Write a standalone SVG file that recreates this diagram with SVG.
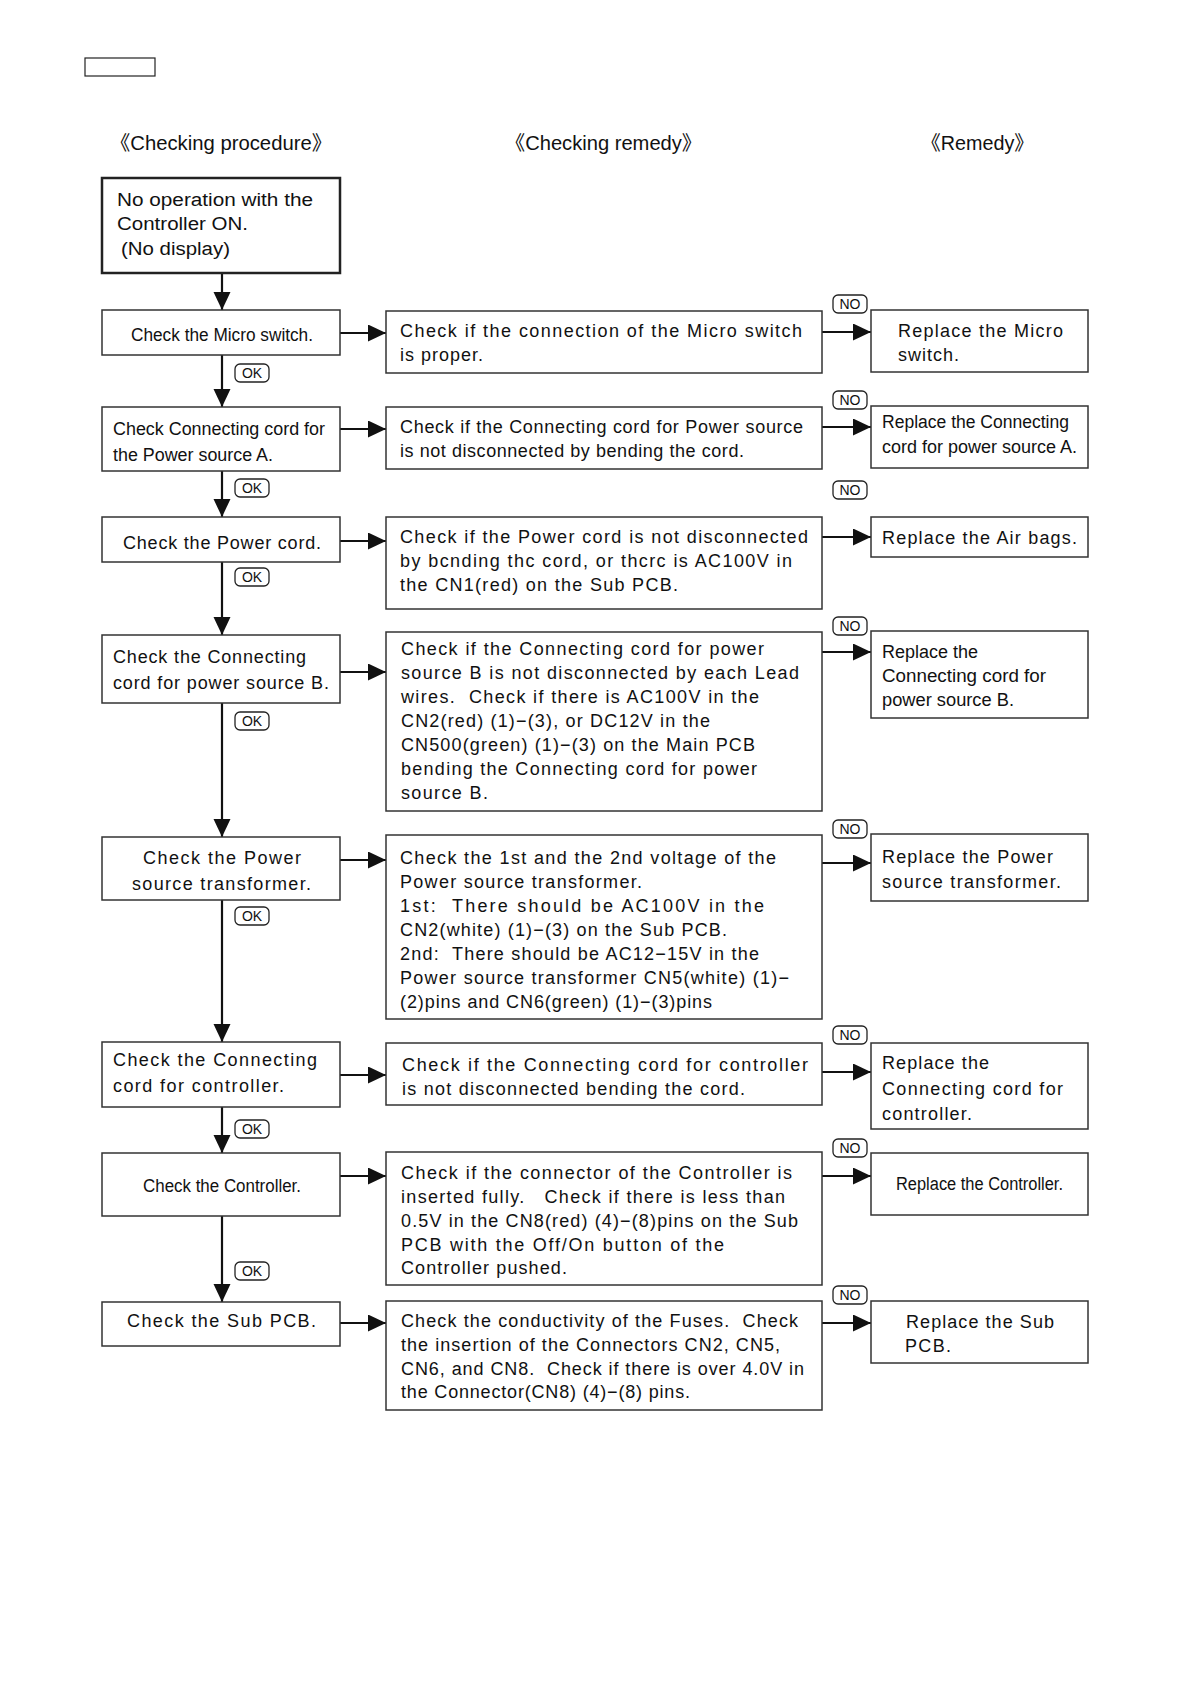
<svg xmlns="http://www.w3.org/2000/svg" width="1190" height="1684" viewBox="0 0 1190 1684">
<style>
.bg{fill:#fff}
.box{fill:#fff;stroke:#333;stroke-width:1.5}
.box0{fill:#fff;stroke:#222;stroke-width:2.5}
.t{font-family:"Liberation Sans","Noto Sans CJK JP",sans-serif;font-size:18px;fill:#111;white-space:pre}
.c{font-family:"Liberation Sans","Noto Sans CJK JP",sans-serif;font-size:18px;fill:#111;white-space:pre}
.h{font-family:"Liberation Sans","Noto Sans CJK JP",sans-serif;font-size:20px;fill:#111}
.lbl{fill:#fff;stroke:#222;stroke-width:1.3}
.lt{font-family:"Liberation Sans",sans-serif;font-size:14px;fill:#111;text-anchor:middle}
.conn line{stroke:#111;stroke-width:2.2}
</style>
<defs>
<marker id="ah" markerUnits="userSpaceOnUse" markerWidth="19" markerHeight="18" refX="18" refY="8.5" orient="auto">
<path d="M0,0 L18,8.5 L0,17 z" fill="#111"/>
</marker>
</defs>
<rect class="bg" x="0" y="0" width="1190" height="1684"/>
<rect x="85" y="58" width="70" height="18" fill="#fff" stroke="#222" stroke-width="1.2"/>

<g id="headers">
<text class="h" x="110" y="150" textLength="222" lengthAdjust="spacingAndGlyphs">《Checking procedure》</text>
<text class="h" x="505" y="150" textLength="197" lengthAdjust="spacingAndGlyphs">《Checking remedy》</text>
<text class="h" x="921" y="150" textLength="113" lengthAdjust="spacingAndGlyphs">《Remedy》</text>
</g>

<g class="conn" id="connectors">
<line x1="222" y1="273" x2="222" y2="310" marker-end="url(#ah)"/>
<line x1="222" y1="355" x2="222" y2="407" marker-end="url(#ah)"/>
<line x1="222" y1="471" x2="222" y2="517" marker-end="url(#ah)"/>
<line x1="222" y1="562" x2="222" y2="635" marker-end="url(#ah)"/>
<line x1="222" y1="703" x2="222" y2="837" marker-end="url(#ah)"/>
<line x1="222" y1="900" x2="222" y2="1042" marker-end="url(#ah)"/>
<line x1="222" y1="1107" x2="222" y2="1153" marker-end="url(#ah)"/>
<line x1="222" y1="1216" x2="222" y2="1302" marker-end="url(#ah)"/>
<line x1="340" y1="333" x2="386" y2="333" marker-end="url(#ah)"/>
<line x1="340" y1="429" x2="386" y2="429" marker-end="url(#ah)"/>
<line x1="340" y1="541" x2="386" y2="541" marker-end="url(#ah)"/>
<line x1="340" y1="672" x2="386" y2="672" marker-end="url(#ah)"/>
<line x1="340" y1="860" x2="386" y2="860" marker-end="url(#ah)"/>
<line x1="340" y1="1075" x2="386" y2="1075" marker-end="url(#ah)"/>
<line x1="340" y1="1176" x2="386" y2="1176" marker-end="url(#ah)"/>
<line x1="340" y1="1323" x2="386" y2="1323" marker-end="url(#ah)"/>
<line x1="822" y1="332" x2="871" y2="332" marker-end="url(#ah)"/>
<line x1="822" y1="427" x2="871" y2="427" marker-end="url(#ah)"/>
<line x1="822" y1="537" x2="871" y2="537" marker-end="url(#ah)"/>
<line x1="822" y1="652" x2="871" y2="652" marker-end="url(#ah)"/>
<line x1="822" y1="863" x2="871" y2="863" marker-end="url(#ah)"/>
<line x1="822" y1="1072" x2="871" y2="1072" marker-end="url(#ah)"/>
<line x1="822" y1="1176" x2="871" y2="1176" marker-end="url(#ah)"/>
<line x1="822" y1="1323" x2="871" y2="1323" marker-end="url(#ah)"/>
</g>

<g id="labels">
<rect class="lbl" x="235" y="364" width="34" height="18" rx="5"/><text class="lt" x="252" y="378">OK</text>
<rect class="lbl" x="235" y="479" width="34" height="18" rx="5"/><text class="lt" x="252" y="493">OK</text>
<rect class="lbl" x="235" y="568" width="34" height="18" rx="5"/><text class="lt" x="252" y="582">OK</text>
<rect class="lbl" x="235" y="712" width="34" height="18" rx="5"/><text class="lt" x="252" y="726">OK</text>
<rect class="lbl" x="235" y="907" width="34" height="18" rx="5"/><text class="lt" x="252" y="921">OK</text>
<rect class="lbl" x="235" y="1120" width="34" height="18" rx="5"/><text class="lt" x="252" y="1134">OK</text>
<rect class="lbl" x="235" y="1262" width="34" height="18" rx="5"/><text class="lt" x="252" y="1276">OK</text>
<rect class="lbl" x="833" y="295" width="34" height="18" rx="5"/><text class="lt" x="850" y="309">NO</text>
<rect class="lbl" x="833" y="391" width="34" height="18" rx="5"/><text class="lt" x="850" y="405">NO</text>
<rect class="lbl" x="833" y="481" width="34" height="18" rx="5"/><text class="lt" x="850" y="495">NO</text>
<rect class="lbl" x="833" y="617" width="34" height="18" rx="5"/><text class="lt" x="850" y="631">NO</text>
<rect class="lbl" x="833" y="820" width="34" height="18" rx="5"/><text class="lt" x="850" y="834">NO</text>
<rect class="lbl" x="833" y="1026" width="34" height="18" rx="5"/><text class="lt" x="850" y="1040">NO</text>
<rect class="lbl" x="833" y="1139" width="34" height="18" rx="5"/><text class="lt" x="850" y="1153">NO</text>
<rect class="lbl" x="833" y="1286" width="34" height="18" rx="5"/><text class="lt" x="850" y="1300">NO</text>
</g>

<g id="start">
<rect class="box0" x="102" y="178" width="238" height="95"/>
<text class="c" x="117" y="206" textLength="196" lengthAdjust="spacingAndGlyphs">No operation with the</text>
<text class="c" x="117" y="230" textLength="131" lengthAdjust="spacingAndGlyphs">Controller ON.</text>
<text class="c" x="121" y="255" textLength="109" lengthAdjust="spacingAndGlyphs">(No display)</text>
</g>

<g id="p1">
<rect class="box" x="102" y="310" width="238" height="45"/>
<text class="c" x="131" y="341" textLength="182" lengthAdjust="spacingAndGlyphs">Check the Micro switch.</text>
</g>
<g id="p2">
<rect class="box" x="102" y="407" width="238" height="64"/>
<text class="c" x="113" y="435" textLength="212" lengthAdjust="spacingAndGlyphs">Check Connecting cord for</text>
<text class="c" x="113" y="461" textLength="160" lengthAdjust="spacingAndGlyphs">the Power source A.</text>
</g>
<g id="p3">
<rect class="box" x="102" y="517" width="238" height="45"/>
<text class="t" x="123" y="549" textLength="198" lengthAdjust="spacing">Check the Power cord.</text>
</g>
<g id="p4">
<rect class="box" x="102" y="635" width="238" height="68"/>
<text class="t" x="113" y="663" textLength="193" lengthAdjust="spacing">Check the Connecting</text>
<text class="t" x="113" y="689" textLength="216" lengthAdjust="spacing">cord for power source B.</text>
</g>
<g id="p5">
<rect class="box" x="102" y="837" width="238" height="63"/>
<text class="t" x="143" y="864" textLength="158" lengthAdjust="spacing">Check the Power</text>
<text class="t" x="132" y="890" textLength="179" lengthAdjust="spacing">source transformer.</text>
</g>
<g id="p6">
<rect class="box" x="102" y="1042" width="238" height="65"/>
<text class="t" x="113" y="1066" textLength="204" lengthAdjust="spacing">Check the Connecting</text>
<text class="t" x="113" y="1092" textLength="171" lengthAdjust="spacing">cord for controller.</text>
</g>
<g id="p7">
<rect class="box" x="102" y="1153" width="238" height="63"/>
<text class="c" x="143" y="1192" textLength="158" lengthAdjust="spacingAndGlyphs">Check the Controller.</text>
</g>
<g id="p8">
<rect class="box" x="102" y="1302" width="238" height="44"/>
<text class="t" x="127" y="1327" textLength="189" lengthAdjust="spacing">Check the Sub PCB.</text>
</g>

<g id="c1">
<rect class="box" x="386" y="311" width="436" height="62"/>
<text class="t" x="400" y="337" textLength="402" lengthAdjust="spacing">Check if the connection of the Micro switch</text>
<text class="t" x="400" y="361" textLength="83" lengthAdjust="spacing">is proper.</text>
</g>
<g id="c2">
<rect class="box" x="386" y="407" width="436" height="62"/>
<text class="t" x="400" y="433" textLength="403" lengthAdjust="spacing">Check if the Connecting cord for Power source</text>
<text class="t" x="400" y="457" textLength="344" lengthAdjust="spacing">is not disconnected by bending the cord.</text>
</g>
<g id="c3">
<rect class="box" x="386" y="517" width="436" height="92"/>
<text class="t" x="400" y="543" textLength="408" lengthAdjust="spacing">Check if the Power cord is not disconnected</text>
<text class="t" x="400" y="567" textLength="392" lengthAdjust="spacing">by bcnding thc cord, or thcrc is AC100V in</text>
<text class="t" x="400" y="591" textLength="278" lengthAdjust="spacing">the CN1(red) on the Sub PCB.</text>
</g>
<g id="c4">
<rect class="box" x="386" y="632" width="436" height="179"/>
<text class="t" x="401" y="655" textLength="363" lengthAdjust="spacing">Check if the Connecting cord for power</text>
<text class="t" x="401" y="679" textLength="398" lengthAdjust="spacing">source B is not disconnected by each Lead</text>
<text class="t" x="401" y="703" textLength="358" lengthAdjust="spacing">wires.  Check if there is AC100V in the</text>
<text class="t" x="401" y="727" textLength="309" lengthAdjust="spacing">CN2(red) (1)−(3), or DC12V in the</text>
<text class="t" x="401" y="751" textLength="354" lengthAdjust="spacing">CN500(green) (1)−(3) on the Main PCB</text>
<text class="t" x="401" y="775" textLength="356" lengthAdjust="spacing">bending the Connecting cord for power</text>
<text class="t" x="401" y="799" textLength="87" lengthAdjust="spacing">source B.</text>
</g>
<g id="c5">
<rect class="box" x="386" y="835" width="436" height="184"/>
<text class="t" x="400" y="864" textLength="376" lengthAdjust="spacing">Check the 1st and the 2nd voltage of the</text>
<text class="t" x="400" y="888" textLength="242" lengthAdjust="spacing">Power source transformer.</text>
<text class="t" x="400" y="912" textLength="364" lengthAdjust="spacing">1st:  There should be AC100V in the</text>
<text class="t" x="400" y="936" textLength="327" lengthAdjust="spacing">CN2(white) (1)−(3) on the Sub PCB.</text>
<text class="t" x="400" y="960" textLength="359" lengthAdjust="spacing">2nd:  There should be AC12−15V in the</text>
<text class="t" x="400" y="984" textLength="389" lengthAdjust="spacing">Power source transformer CN5(white) (1)−</text>
<text class="t" x="400" y="1008" textLength="312" lengthAdjust="spacing">(2)pins and CN6(green) (1)−(3)pins</text>
</g>
<g id="c6">
<rect class="box" x="386" y="1043" width="436" height="62"/>
<text class="t" x="402" y="1071" textLength="406" lengthAdjust="spacing">Check if the Connecting cord for controller</text>
<text class="t" x="402" y="1095" textLength="343" lengthAdjust="spacing">is not disconnected bending the cord.</text>
</g>
<g id="c7">
<rect class="box" x="386" y="1152" width="436" height="133"/>
<text class="t" x="401" y="1179" textLength="391" lengthAdjust="spacing">Check if the connector of the Controller is</text>
<text class="t" x="401" y="1203" textLength="384" lengthAdjust="spacing">inserted fully.   Check if there is less than</text>
<text class="t" x="401" y="1227" textLength="397" lengthAdjust="spacing">0.5V in the CN8(red) (4)−(8)pins on the Sub</text>
<text class="t" x="401" y="1251" textLength="323" lengthAdjust="spacing">PCB with the Off/On button of the</text>
<text class="t" x="401" y="1274" textLength="166" lengthAdjust="spacing">Controller pushed.</text>
</g>
<g id="c8">
<rect class="box" x="386" y="1301" width="436" height="109"/>
<text class="t" x="401" y="1327" textLength="397" lengthAdjust="spacing">Check the conductivity of the Fuses.  Check</text>
<text class="t" x="401" y="1351" textLength="379" lengthAdjust="spacing">the insertion of the Connectors CN2, CN5,</text>
<text class="t" x="401" y="1375" textLength="403" lengthAdjust="spacing">CN6, and CN8.  Check if there is over 4.0V in</text>
<text class="t" x="401" y="1398" textLength="289" lengthAdjust="spacing">the Connector(CN8) (4)−(8) pins.</text>
</g>

<g id="r1">
<rect class="box" x="871" y="310" width="217" height="62"/>
<text class="t" x="898" y="337" textLength="165" lengthAdjust="spacing">Replace the Micro</text>
<text class="t" x="898" y="361" textLength="61" lengthAdjust="spacing">switch.</text>
</g>
<g id="r2">
<rect class="box" x="871" y="406" width="217" height="62"/>
<text class="c" x="882" y="428" textLength="187" lengthAdjust="spacingAndGlyphs">Replace the Connecting</text>
<text class="c" x="882" y="453" textLength="195" lengthAdjust="spacingAndGlyphs">cord for power source A.</text>
</g>
<g id="r3">
<rect class="box" x="871" y="517" width="217" height="40"/>
<text class="t" x="882" y="544" textLength="195" lengthAdjust="spacing">Replace the Air bags.</text>
</g>
<g id="r4">
<rect class="box" x="871" y="631" width="217" height="87"/>
<text class="c" x="882" y="658" textLength="96" lengthAdjust="spacingAndGlyphs">Replace the</text>
<text class="c" x="882" y="682" textLength="164" lengthAdjust="spacingAndGlyphs">Connecting cord for</text>
<text class="c" x="882" y="706" textLength="132" lengthAdjust="spacingAndGlyphs">power source B.</text>
</g>
<g id="r5">
<rect class="box" x="871" y="834" width="217" height="67"/>
<text class="t" x="882" y="863" textLength="171" lengthAdjust="spacing">Replace the Power</text>
<text class="t" x="882" y="888" textLength="179" lengthAdjust="spacing">source transformer.</text>
</g>
<g id="r6">
<rect class="box" x="871" y="1043" width="217" height="86"/>
<text class="t" x="882" y="1069" textLength="107" lengthAdjust="spacing">Replace the</text>
<text class="t" x="882" y="1095" textLength="181" lengthAdjust="spacing">Connecting cord for</text>
<text class="t" x="882" y="1120" textLength="90" lengthAdjust="spacing">controller.</text>
</g>
<g id="r7">
<rect class="box" x="871" y="1153" width="217" height="62"/>
<text class="c" x="896" y="1190" textLength="167" lengthAdjust="spacingAndGlyphs">Replace the Controller.</text>
</g>
<g id="r8">
<rect class="box" x="871" y="1301" width="217" height="62"/>
<text class="t" x="906" y="1328" textLength="148" lengthAdjust="spacing">Replace the Sub</text>
<text class="t" x="905" y="1352" textLength="46" lengthAdjust="spacing">PCB.</text>
</g>
</svg>
